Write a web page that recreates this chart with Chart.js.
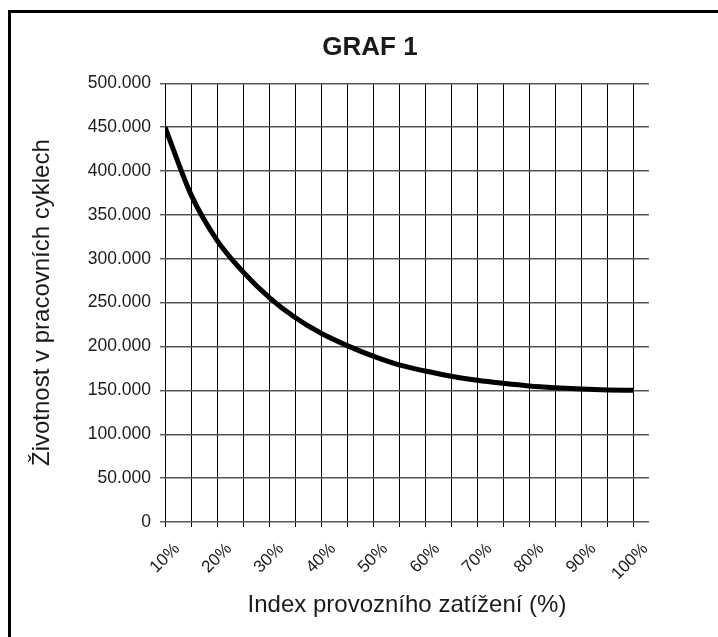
<!DOCTYPE html>
<html>
<head>
<meta charset="utf-8">
<script src="https://cdn.jsdelivr.net/npm/chart.js@4/dist/chart.umd.min.js"></script>
<style>
  html, body { margin: 0; padding: 0; background: #ffffff; }
  #wrap { position: relative; width: 718px; height: 637px; }
  canvas { display: block; }
</style>
</head>
<body>
<div id="wrap"><canvas id="c" width="718" height="637"></canvas></div>
<script>
// ---- data ----
const chartTitle = 'GRAF 1';
const xAxisTitle = 'Index provozního zatížení (%)';
const yAxisTitle = 'Životnost v pracovních cyklech';

const loadIndex = [10, 15, 20, 25, 30, 35, 40, 45, 50, 55, 60, 65, 70, 75, 80, 85, 90, 95, 100];
const lifeCycles = [450000, 373000, 321000, 285000, 256000, 233000, 215000, 201000, 189000, 179000,
                    172000, 166000, 161500, 158000, 155000, 153000, 151500, 150500, 150000];

const xGridTicks = [10, 15, 20, 25, 30, 35, 40, 45, 50, 55, 60, 65, 70, 75, 80, 85, 90, 95, 100];
const xLabelTicks = [10, 20, 30, 40, 50, 60, 70, 80, 90, 100];
const yMin = 0, yMax = 500000, yStep = 50000;
const xMin = 10, xMax = 103;

const FONT = "'Liberation Sans', Arial, Helvetica, sans-serif";

function fmtThousands(v) {
  return String(v).replace(/\B(?=(\d{3})+(?!\d))/g, '.');
}

const framePlugin = {
  id: 'frame',
  beforeDraw(chart) {
    const ctx = chart.ctx;
    ctx.save();
    ctx.fillStyle = '#ffffff';
    ctx.fillRect(0, 0, chart.width, chart.height);
    ctx.fillStyle = '#000000';
    ctx.fillRect(8, 10, 3, chart.height - 10);
    ctx.fillRect(8, 10, chart.width - 8, 3);
    ctx.restore();
  }
};

new Chart(document.getElementById('c'), {
  type: 'line',
  data: {
    datasets: [{
      label: yAxisTitle,
      data: loadIndex.map((x, i) => ({ x: x, y: lifeCycles[i] })),
      borderColor: '#000000',
      borderWidth: 5,
      pointRadius: 0,
      fill: false,
      cubicInterpolationMode: 'monotone',
      borderCapStyle: 'butt'
    }]
  },
  options: {
    responsive: false,
    animation: false,
    devicePixelRatio: 1,
    layout: { padding: { left: 22, right: 0, top: 0, bottom: 0 } },
    plugins: {
      legend: { display: false },
      tooltip: { enabled: false },
      title: {
        display: true,
        text: chartTitle,
        color: '#1a1a1a',
        font: { family: FONT, size: 26, weight: 'bold' },
        padding: { top: 32, bottom: 20 }
      }
    },
    scales: {
      x: {
        type: 'linear',
        min: xMin,
        max: xMax,
        afterBuildTicks(scale) {
          scale.ticks = xGridTicks.map(v => ({ value: v }));
        },
        afterFit(scale) { scale.height = 115; },
        border: { display: false },
        grid: {
          color: '#000000',
          lineWidth: 1,
          drawTicks: true,
          tickLength: 5,
          tickColor: '#000000'
        },
        ticks: {
          autoSkip: false,
          minRotation: 45,
          maxRotation: 45,
          labelOffset: 12,
          padding: 12,
          color: '#1a1a1a',
          font: { family: FONT, size: 17 },
          callback: (v) => xLabelTicks.includes(v) ? v + '%' : ''
        },
        title: {
          display: true,
          text: xAxisTitle,
          color: '#1a1a1a',
          font: { family: FONT, size: 24 },
          padding: { top: 0, bottom: 17 }
        }
      },
      y: {
        type: 'linear',
        position: 'left',
        min: yMin,
        max: yMax,
        afterFit(scale) { scale.width = 143; },
        border: { display: false },
        grid: {
          color: '#555555',
          lineWidth: 1.4,
          drawTicks: true,
          tickLength: 5,
          tickColor: '#555555'
        },
        ticks: {
          stepSize: yStep,
          padding: 9,
          color: '#1a1a1a',
          font: { family: FONT, size: 17.5 },
          callback: (v) => fmtThousands(v)
        },
        title: {
          display: true,
          text: yAxisTitle,
          color: '#1a1a1a',
          font: { family: FONT, size: 24 },
          padding: { top: 6, bottom: 0 }
        }
      },
      rightSpace: {
        type: 'linear',
        position: 'right',
        display: true,
        afterFit(scale) { scale.width = 69; },
        border: { display: false },
        grid: { display: false, drawTicks: false },
        ticks: { display: false }
      }
    }
  },
  plugins: [framePlugin]
});
</script>
</body>
</html>
